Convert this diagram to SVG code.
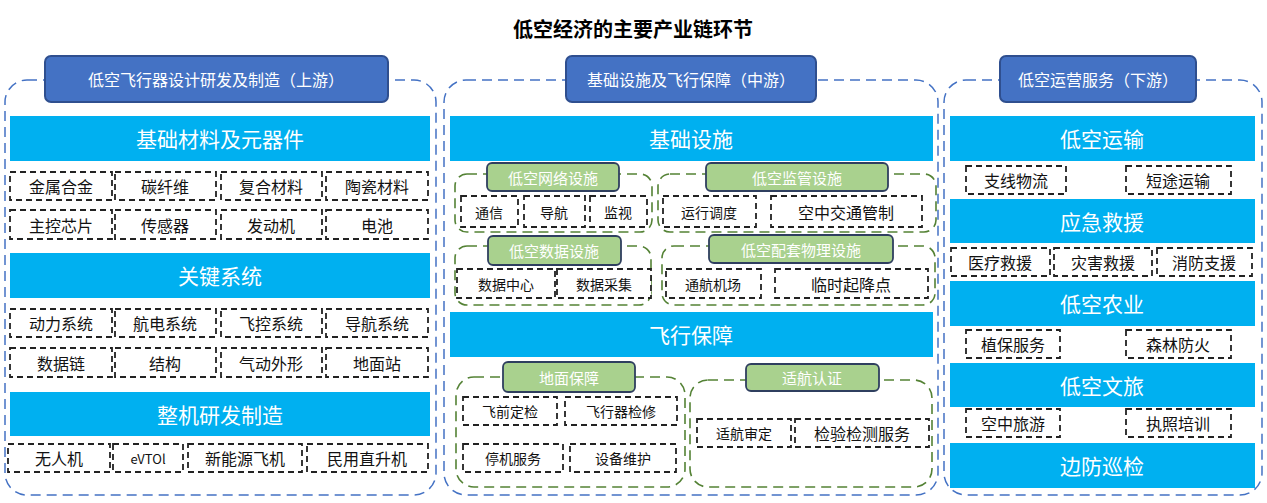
<svg xmlns="http://www.w3.org/2000/svg" width="1267" height="503" viewBox="0 0 1267 503">
<style>
text{font-family:"Noto Sans CJK SC","Liberation Sans",sans-serif;text-anchor:middle;dominant-baseline:central}
.t{font-size:20px;font-weight:bold;fill:#000}
.panel{fill:none;stroke:#4472C4;stroke-width:1.5;stroke-dasharray:10 6}
.hdr{fill:#4472C4;stroke:#2F4F8F;stroke-width:2}
.ht{fill:#fff;font-size:16px}
.bar{fill:#00B0F0}
.bt{fill:#fff;font-size:21px}
.box{fill:#fff;stroke:#222;stroke-width:1.8;stroke-dasharray:6 4}
.it{fill:#111;font-size:16px}
.grp{fill:none;stroke:#548235;stroke-width:1.6;stroke-dasharray:10 6}
.gl{fill:#A9D18E;stroke:#2F3F5F;stroke-width:1.8}
.gt{fill:#fff;font-size:15px}
</style>
<rect width="1267" height="503" fill="#fff"/>
<text class="t" x="633" y="28">低空经济的主要产业链环节</text>
<g id="connectors"/>
<g id="upstream">
<rect class="panel" x="5" y="80" width="431" height="415" rx="22"/>
<rect class="hdr" x="45" y="56" width="343" height="46" rx="6"/><text class="ht" x="216" y="79">低空飞行器设计研发及制造（上游）</text>
<rect class="bar" x="10" y="116" width="420" height="45"/><text class="bt" x="220" y="138">基础材料及元器件</text>
<rect class="box" x="10" y="172" width="102" height="28"/><text class="it" x="61" y="186">金属合金</text>
<rect class="box" x="115" y="172" width="101" height="28"/><text class="it" x="165" y="186">碳纤维</text>
<rect class="box" x="221" y="172" width="101" height="28"/><text class="it" x="271" y="186">复合材料</text>
<rect class="box" x="326" y="172" width="102" height="28"/><text class="it" x="377" y="186">陶瓷材料</text>
<rect class="box" x="10" y="210" width="102" height="29"/><text class="it" x="61" y="225">主控芯片</text>
<rect class="box" x="115" y="210" width="101" height="29"/><text class="it" x="165" y="225">传感器</text>
<rect class="box" x="221" y="210" width="101" height="29"/><text class="it" x="271" y="225">发动机</text>
<rect class="box" x="326" y="210" width="102" height="29"/><text class="it" x="377" y="225">电池</text>
<rect class="bar" x="10" y="253" width="420" height="45"/><text class="bt" x="220" y="275">关键系统</text>
<rect class="box" x="10" y="309" width="102" height="28"/><text class="it" x="61" y="323">动力系统</text>
<rect class="box" x="115" y="309" width="101" height="28"/><text class="it" x="165" y="323">航电系统</text>
<rect class="box" x="221" y="309" width="101" height="28"/><text class="it" x="271" y="323">飞控系统</text>
<rect class="box" x="326" y="309" width="102" height="28"/><text class="it" x="377" y="323">导航系统</text>
<rect class="box" x="10" y="348" width="102" height="29"/><text class="it" x="61" y="363">数据链</text>
<rect class="box" x="115" y="348" width="101" height="29"/><text class="it" x="165" y="363">结构</text>
<rect class="box" x="221" y="348" width="101" height="29"/><text class="it" x="271" y="363">气动外形</text>
<rect class="box" x="326" y="348" width="102" height="29"/><text class="it" x="377" y="363">地面站</text>
<rect class="bar" x="10" y="392" width="420" height="44"/><text class="bt" x="220" y="414">整机研发制造</text>
<rect class="box" x="8" y="444" width="102" height="28"/><text class="it" x="59" y="458">无人机</text>
<rect class="box" x="113" y="444" width="70" height="28"/><text class="it" x="148" y="458" style="font-size:13px">eVTOl</text>
<rect class="box" x="188" y="444" width="114" height="28"/><text class="it" x="245" y="458">新能源飞机</text>
<rect class="box" x="307" y="444" width="121" height="28"/><text class="it" x="367" y="458">民用直升机</text>
</g>
<g id="midstream">
<rect class="panel" x="444" y="80" width="494" height="415" rx="22"/>
<rect class="hdr" x="566" y="56" width="250" height="46" rx="6"/><text class="ht" x="691" y="79">基础设施及飞行保障（中游）</text>
<rect class="bar" x="450" y="116" width="483" height="45"/><text class="bt" x="691" y="138">基础设施</text>
<rect class="grp" x="455" y="174" width="197" height="58" rx="12"/>
<rect class="gl" x="487" y="163" width="132" height="28" rx="5"/><text class="gt" x="553" y="177">低空网络设施</text>
<rect class="box" x="461" y="196" width="57" height="31"/><text class="it" x="489" y="212" style="font-size:14px">通信</text>
<rect class="box" x="524" y="196" width="61" height="31"/><text class="it" x="554" y="212" style="font-size:14px">导航</text>
<rect class="box" x="590" y="196" width="57" height="31"/><text class="it" x="618" y="212" style="font-size:14px">监视</text>
<rect class="grp" x="658" y="174" width="278" height="58" rx="12"/>
<rect class="gl" x="706" y="163" width="182" height="28" rx="5"/><text class="gt" x="797" y="177">低空监管设施</text>
<rect class="box" x="663" y="196" width="93" height="31"/><text class="it" x="709" y="212" style="font-size:14px">运行调度</text>
<rect class="box" x="771" y="196" width="151" height="31"/><text class="it" x="846" y="212">空中交通管制</text>
<rect class="grp" x="455" y="246" width="196" height="59" rx="12"/>
<rect class="gl" x="488" y="236" width="133" height="29" rx="5"/><text class="gt" x="554" y="250">低空数据设施</text>
<rect class="box" x="457" y="269" width="98" height="29"/><text class="it" x="506" y="284" style="font-size:14px">数据中心</text>
<rect class="box" x="557" y="269" width="94" height="29"/><text class="it" x="604" y="284" style="font-size:14px">数据采集</text>
<rect class="grp" x="662" y="246" width="273" height="59" rx="12"/>
<rect class="gl" x="709" y="235" width="184" height="28" rx="5"/><text class="gt" x="801" y="249">低空配套物理设施</text>
<rect class="box" x="666" y="269" width="95" height="29"/><text class="it" x="713" y="284" style="font-size:14px">通航机场</text>
<rect class="box" x="775" y="269" width="153" height="29"/><text class="it" x="851" y="284">临时起降点</text>
<rect class="bar" x="450" y="312" width="483" height="45"/><text class="bt" x="691" y="334">飞行保障</text>
<rect class="grp" x="456" y="377" width="229" height="110" rx="18"/>
<rect class="gl" x="503" y="362" width="132" height="30" rx="5"/><text class="gt" x="569" y="377">地面保障</text>
<rect class="box" x="463" y="397" width="94" height="28"/><text class="it" x="510" y="411" style="font-size:14px">飞前定检</text>
<rect class="box" x="565" y="397" width="112" height="28"/><text class="it" x="621" y="411" style="font-size:14px">飞行器检修</text>
<rect class="box" x="463" y="444" width="100" height="28"/><text class="it" x="513" y="458" style="font-size:14px">停机服务</text>
<rect class="box" x="570" y="444" width="106" height="28"/><text class="it" x="623" y="458" style="font-size:14px">设备维护</text>
<rect class="grp" x="690" y="380" width="242" height="107" rx="18"/>
<rect class="gl" x="746" y="364" width="133" height="27" rx="5"/><text class="gt" x="812" y="377">适航认证</text>
<rect class="box" x="697" y="419" width="94" height="28"/><text class="it" x="744" y="433" style="font-size:14px">适航审定</text>
<rect class="box" x="795" y="419" width="134" height="28"/><text class="it" x="862" y="433">检验检测服务</text>
</g>
<g id="downstream">
<rect class="panel" x="944" y="80" width="318" height="415" rx="22"/>
<rect class="hdr" x="1000" y="56" width="196" height="46" rx="6"/><text class="ht" x="1098" y="79">低空运营服务（下游）</text>
<rect class="bar" x="950" y="116" width="305" height="45"/><text class="bt" x="1102" y="138">低空运输</text>
<rect class="box" x="966" y="166" width="100" height="28"/><text class="it" x="1016" y="180">支线物流</text>
<rect class="box" x="1126" y="166" width="105" height="28"/><text class="it" x="1178" y="180">短途运输</text>
<rect class="bar" x="950" y="199" width="305" height="44"/><text class="bt" x="1102" y="221">应急救援</text>
<rect class="box" x="951" y="248" width="99" height="28"/><text class="it" x="1000" y="262">医疗救援</text>
<rect class="box" x="1054" y="248" width="98" height="28"/><text class="it" x="1103" y="262">灾害救援</text>
<rect class="box" x="1157" y="248" width="95" height="28"/><text class="it" x="1204" y="262">消防支援</text>
<rect class="bar" x="950" y="281" width="305" height="45"/><text class="bt" x="1102" y="303">低空农业</text>
<rect class="box" x="966" y="330" width="94" height="28"/><text class="it" x="1013" y="344">植保服务</text>
<rect class="box" x="1126" y="330" width="105" height="28"/><text class="it" x="1178" y="344">森林防火</text>
<rect class="bar" x="950" y="363" width="305" height="44"/><text class="bt" x="1102" y="385">低空文旅</text>
<rect class="box" x="966" y="409" width="94" height="28"/><text class="it" x="1013" y="423">空中旅游</text>
<rect class="box" x="1126" y="409" width="105" height="28"/><text class="it" x="1178" y="423">执照培训</text>
<rect class="bar" x="950" y="443" width="305" height="45"/><text class="bt" x="1102" y="465">边防巡检</text>
</g>
</svg>
